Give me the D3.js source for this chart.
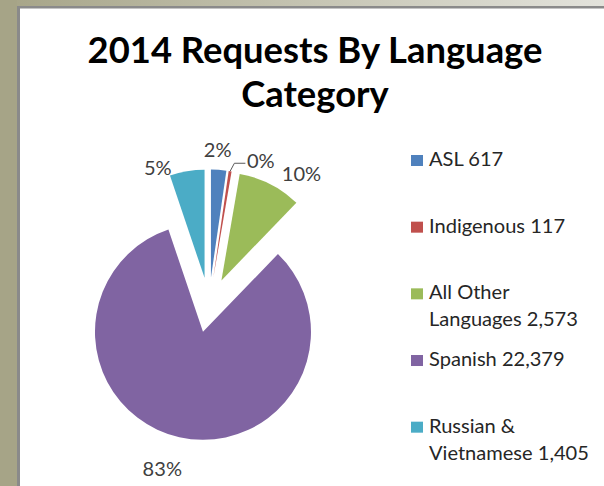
<!DOCTYPE html>
<html><head><meta charset="utf-8">
<script src="https://cdn.jsdelivr.net/npm/d3@7"></script>
<style>html,body{margin:0;padding:0;background:#fff;overflow:hidden} svg{display:block}</style>
</head><body>
<script>
// ---- data ----
const categories = ["ASL", "Indigenous", "All Other Languages", "Spanish", "Russian & Vietnamese"];
const values = [617, 117, 2573, 22379, 1405];
const percentLabels = ["2%", "0%", "10%", "83%", "5%"];
const legendLabels = [["ASL 617"], ["Indigenous 117"], ["All Other", "Languages 2,573"], ["Spanish 22,379"], ["Russian &", "Vietnamese 1,405"]];
const titleLines = ["2014 Requests By Language", "Category"];

// ---- style / layout ----
const colors = ["#4F81BD", "#C0504D", "#9BBB59", "#8064A2", "#4BACC6"];
const labelNudge = [[-2, -6], null, [25, 2], [-14, 18], [-27, 10]];
const W = 604, H = 486;
const FONT = "Lato, 'Open Sans', sans-serif";
const cx = 209, cy = 305, R = 108, EXPLODE = 27.5;

const svg = d3.select("body").append("svg").attr("width", W).attr("height", H);

// frame
const defs = svg.append("defs");
const grad = defs.append("linearGradient").attr("id", "topg")
  .attr("x1", 0).attr("x2", 1).attr("y1", 0).attr("y2", 0);
grad.append("stop").attr("offset", 0).attr("stop-color", "#a6a487");
grad.append("stop").attr("offset", 1).attr("stop-color", "#e3e3dc");
svg.append("rect").attr("x", 0).attr("y", 0).attr("width", W).attr("height", 7).attr("fill", "url(#topg)");
svg.append("rect").attr("x", 0).attr("y", 0).attr("width", 17).attr("height", H).attr("fill", "#a6a487");
svg.append("rect").attr("x", 17).attr("y", 6).attr("width", W - 17).attr("height", 2.5).attr("fill", "#8a8a8a");
svg.append("rect").attr("x", 17).attr("y", 6).attr("width", 3).attr("height", H - 6).attr("fill", "#8a8a8a");

// fit helper
function fitSize(text, weight, targetW) {
  const t = svg.append("text").attr("font-family", FONT).attr("font-weight", weight)
    .attr("font-size", 100).text(text);
  const w = t.node().getComputedTextLength();
  t.remove();
  return 100 * targetW / w;
}

// title
const titleSize = Math.min(38, fitSize(titleLines[0], "bold", 455));
const titleG = svg.append("g").attr("font-family", FONT).attr("font-weight", "bold")
  .attr("font-size", titleSize).attr("fill", "#000").attr("text-anchor", "middle");
titleLines.forEach((l, i) => {
  titleG.append("text").attr("x", 315).attr("y", 63 + i * 44).text(l);
});

// pie
const pieData = d3.pie().sort(null).value(d => d)(values);
const arc = d3.arc().innerRadius(0).outerRadius(R);
const mid = d => (d.startAngle + d.endAngle) / 2;
const pieG = svg.append("g").attr("transform", `translate(${cx},${cy})`);
pieG.selectAll("path").data(pieData).join("path")
  .attr("transform", d => `translate(${Math.sin(mid(d)) * EXPLODE},${-Math.cos(mid(d)) * EXPLODE})`)
  .attr("d", arc)
  .attr("fill", (d, i) => colors[i]);

// data labels
const legendSize = fitSize(legendLabels[4][1], "normal", 160);
const labelSize = legendSize;
const capH = labelSize * 0.72;
const labG = svg.append("g").attr("font-family", FONT).attr("font-size", labelSize).attr("fill", "#404040");
pieData.forEach((d, i) => {
  const m = mid(d);
  const dx = Math.sin(m), dy = -Math.cos(m);
  const ax = cx + dx * EXPLODE, ay = cy + dy * EXPLODE;
  if (labelNudge[i]) {
    const px = ax + dx * (R + 14) + labelNudge[i][0];
    const py = ay + dy * (R + 14) + labelNudge[i][1];
    labG.append("text").attr("x", px).attr("y", py + capH / 2)
      .attr("text-anchor", "middle").text(percentLabels[i]);
  } else {
    const p1 = [ax + dx * R, ay + dy * R];
    const p2 = [ax + dx * (R + 8) + 3, ay + dy * (R + 8)];
    const p3 = [p2[0] + 11, p2[1]];
    svg.append("path").attr("d", d3.line()([p1, p2, p3]))
      .attr("fill", "none").attr("stroke", "#595959").attr("stroke-width", 1);
    labG.append("text").attr("x", p3[0] + 1.5).attr("y", p3[1] - 2 + capH / 2)
      .attr("text-anchor", "start").text(percentLabels[i]);
  }
});

// legend
const legG = svg.append("g").attr("font-family", FONT).attr("font-size", legendSize).attr("fill", "#262626");
legendLabels.forEach((lines, i) => {
  const base = 166 + i * 66.67;
  legG.append("rect").attr("x", 411).attr("y", base - 11).attr("width", 12).attr("height", 11)
    .attr("fill", colors[i]);
  lines.forEach((l, j) => {
    legG.append("text").attr("x", 429).attr("y", base + j * 27).text(l);
  });
});
</script>
</body></html>
